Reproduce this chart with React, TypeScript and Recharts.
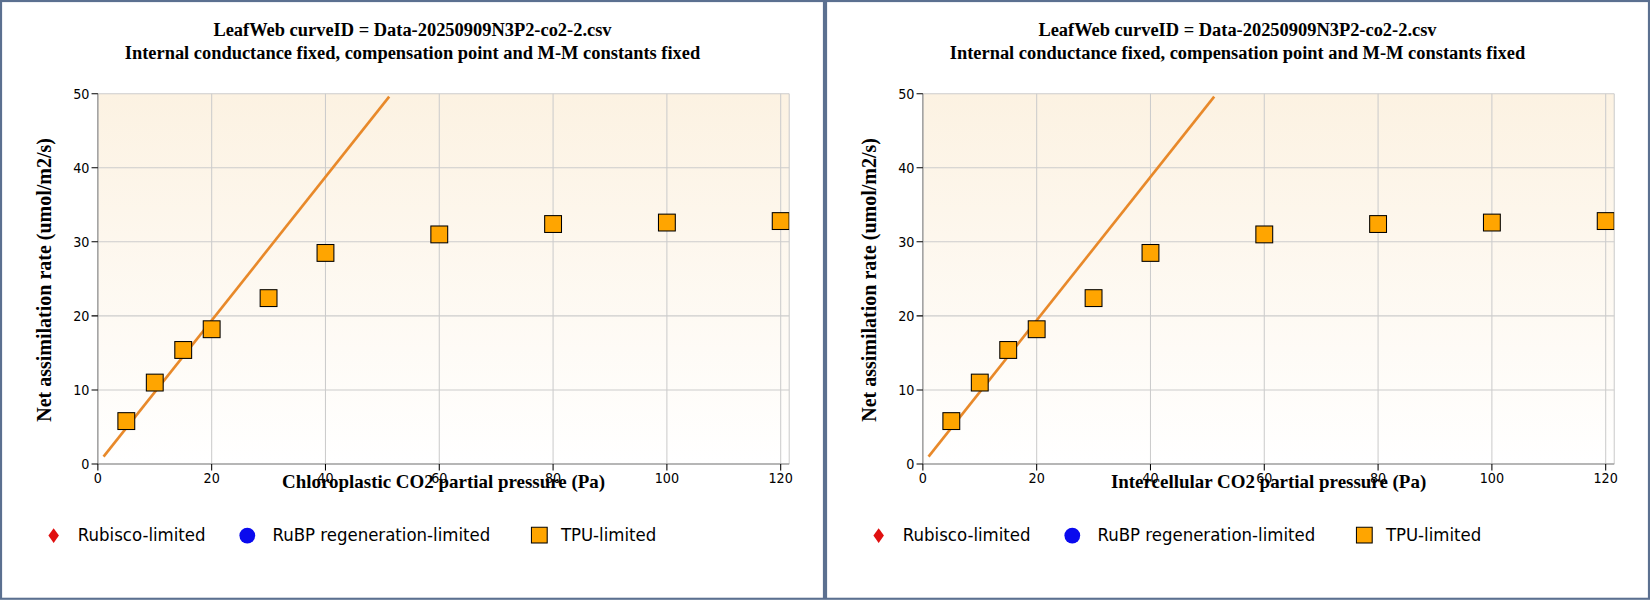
import React from "react";
import { ComposedChart, Line, Scatter, XAxis, YAxis, CartesianGrid } from "recharts";

const co2 = [5, 10, 15, 20, 30, 40, 60, 80, 100, 120];
const assim = [5.8, 11, 15.4, 18.2, 22.4, 28.5, 31, 32.4, 32.6, 32.8];
const fitX = [1, 51.2];
const fitY = [1, 49.6];
const xTicks = [0, 20, 40, 60, 80, 100, 120];
const yTicks = [0, 10, 20, 30, 40, 50];
const titleLines = [
  "LeafWeb curveID = Data-20250909N3P2-co2-2.csv",
  "Internal conductance fixed, compensation point and M-M constants fixed",
];
const xLabels = ["Chloroplastic CO2 partial pressure (Pa)", "Intercellular CO2 partial pressure (Pa)"];
const yLabel = "Net assimilation rate (umol/m2/s)";

const points = co2.map((x, i) => ({ x, y: assim[i] }));
const fit = fitX.map((x, i) => ({ x, fy: fitY[i] }));

const Square = (p: any) => (
  <rect x={p.cx - 8} y={p.cy - 8} width={16} height={16} fill="#ffa500" stroke="#000" strokeWidth={1} />
);

const tickStyle = { fontSize: 13.5, fill: "#000", fontFamily: "Liberation Sans Narrow, DejaVu Sans Condensed, sans-serif" };
const serif = "Liberation Serif, serif";
const legendFont = { position: "absolute" as const, top: 496, fontFamily: "DejaVu Sans Condensed, DejaVu Sans, sans-serif", fontSize: 17.5 };

function Panel({ xLabel }: { xLabel: string }) {
  return (
    <div style={{ position: "relative", width: 780, height: 566, border: "2px solid #5b7090", background: "#fff", boxSizing: "content-box", flex: "none" }}>
      <div style={{ position: "absolute", top: 15, left: 0, width: 780, textAlign: "center", fontFamily: serif, fontWeight: "bold", fontSize: 17.5, lineHeight: "22px" }}>
        {titleLines.map((t) => <div key={t}>{t}</div>)}
      </div>
      <div style={{ position: "absolute", left: 91, top: 87, width: 657, height: 352, background: "linear-gradient(#fcf2e2, #ffffff)" }} />
      <div style={{ position: "absolute", left: 0, top: 0 }}>
        <ComposedChart width={780} height={500} margin={{ top: 87, right: 32, left: 33, bottom: 31 }}>
          <CartesianGrid stroke="#cccccc" horizontal vertical />
          <XAxis type="number" dataKey="x" domain={[0, 121.5]} ticks={xTicks} allowDataOverflow
            stroke="#888" tick={tickStyle} tickLine={{ stroke: "#000" }} tickSize={6} height={30} />
          <YAxis type="number" domain={[0, 50]} ticks={yTicks} allowDataOverflow
            stroke="#888" tick={tickStyle} tickLine={{ stroke: "#000" }} tickSize={6} width={58} />
          <Line data={fit} dataKey="fy" stroke="#e8892a" strokeWidth={2.5} dot={false} isAnimationActive={false} />
          <Scatter data={points} dataKey="y" shape={Square} isAnimationActive={false} />
        </ComposedChart>
      </div>
      <div style={{ position: "absolute", left: 40, top: 264, transform: "translate(-50%,-50%) rotate(-90deg)", whiteSpace: "nowrap", fontFamily: serif, fontWeight: "bold", fontSize: 19 }}>
        {yLabel}
      </div>
      <div style={{ position: "absolute", left: 91, width: 657, top: 446, textAlign: "center", fontFamily: serif, fontWeight: "bold", fontSize: 18 }}>
        {xLabel}
      </div>
      <svg width={16} height={16} style={{ position: "absolute", left: 41, top: 499 }}><polygon points="8,1 13,8 8,15 3,8" fill="#e01010" /></svg>
      <span style={{ ...legendFont, left: 72 }}>Rubisco-limited</span>
      <svg width={18} height={18} style={{ position: "absolute", left: 224, top: 498 }}><circle cx={9} cy={9} r={7.5} fill="#0a0aee" /></svg>
      <span style={{ ...legendFont, left: 257 }}>RuBP regeneration-limited</span>
      <svg width={18} height={18} style={{ position: "absolute", left: 502, top: 498 }}><rect x={1} y={1} width={15} height={15} fill="#ffa500" stroke="#000" /></svg>
      <span style={{ ...legendFont, left: 531 }}>TPU-limited</span>
    </div>
  );
}

export default function App() {
  return (
    <div style={{ position: "absolute", left: 0, top: 0, width: 1568, height: 570, background: "#fff", display: "flex", transform: "scale(1.0523)", transformOrigin: "0 0" }}>
      <Panel xLabel={xLabels[0]} />
      <Panel xLabel={xLabels[1]} />
    </div>
  );
}
